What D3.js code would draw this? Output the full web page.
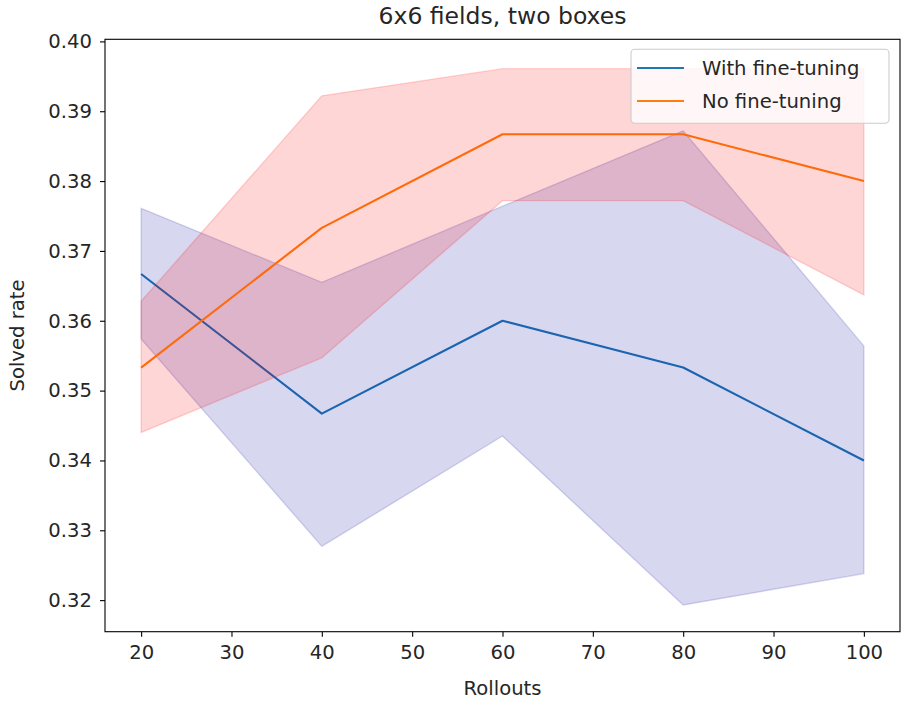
<!DOCTYPE html>
<html>
<head>
<meta charset="utf-8">
<script src="https://cdn.jsdelivr.net/npm/d3@7/dist/d3.min.js"></script>
<style>
  html, body { margin: 0; padding: 0; background: #fff; }
  svg { display: block; font-family: "DejaVu Sans", sans-serif; }
</style>
</head>
<body>
<svg id="chart" width="906" height="701"></svg>
<script>
// Number of rollouts on the x axis
const rollouts = [20, 40, 60, 80, 100];

// Mean solved rate and spread band, with fine-tuning
const withFtMean  = [0.3667, 0.3467, 0.3600, 0.3533, 0.3400];
const withFtLower = [0.3574, 0.3277, 0.3435, 0.3193, 0.3238];
const withFtUpper = [0.3761, 0.3655, 0.3764, 0.3872, 0.3564];

// Mean solved rate and spread band, without fine-tuning
const noFtMean  = [0.3533, 0.3733, 0.3867, 0.3867, 0.3800];
const noFtLower = [0.3440, 0.3547, 0.3772, 0.3772, 0.3637];
const noFtUpper = [0.3628, 0.3922, 0.3961, 0.3961, 0.3961];

const xTicks = [20, 30, 40, 50, 60, 70, 80, 90, 100];
const yTicks = [0.32, 0.33, 0.34, 0.35, 0.36, 0.37, 0.38, 0.39, 0.40];

const seriesNames = ["With fine-tuning", "No fine-tuning"];

const svg = d3.select("#chart");
const mLeft = 105, mRight = 900, mTop = 39.3, mBottom = 631.7;

const x = d3.scaleLinear().domain([16, 104]).range([mLeft, mRight]);
const y = d3.scaleLinear().domain([0.31548, 0.4003]).range([mBottom, mTop]);

const fontSize = 19.6;

const series = [
  { name: seriesNames[0], mean: withFtMean, lo: withFtLower, hi: withFtUpper, line: "#1f77b4", fill: "rgb(0,0,160)", alpha: 0.155 },
  { name: seriesNames[1], mean: noFtMean,   lo: noFtLower,   hi: noFtUpper,   line: "#ff7f0e", fill: "rgb(255,0,0)", alpha: 0.16 }
];

const area = d3.area()
  .x((d, i) => x(rollouts[i]))
  .y0(d => y(d[0]))
  .y1(d => y(d[1]));

const line = d3.line()
  .x((d, i) => x(rollouts[i]))
  .y(d => y(d));

const plot = svg.append("g");

series.forEach(s => {
  plot.append("path")
    .attr("d", line(s.mean))
    .attr("fill", "none")
    .attr("stroke", s.line)
    .attr("stroke-width", 2.1)
    .attr("stroke-linejoin", "round")
    .attr("stroke-linecap", "butt");
  const band = s.lo.map((v, i) => [v, s.hi[i]]);
  plot.append("path")
    .attr("d", area(band))
    .attr("fill", s.fill)
    .attr("fill-opacity", s.alpha)
    .attr("stroke", s.fill)
    .attr("stroke-opacity", s.alpha)
    .attr("stroke-width", 1.4);
});

// Axes
const xAxis = d3.axisBottom(x).tickValues(xTicks).tickSize(5).tickPadding(8).tickFormat(d3.format("d"));
const yAxis = d3.axisLeft(y).tickValues(yTicks).tickSize(5).tickPadding(8).tickFormat(d3.format(".2f"));

const gx = svg.append("g").attr("transform", `translate(0,${mBottom})`).call(xAxis);
const gy = svg.append("g").attr("transform", `translate(${mLeft},0)`).call(yAxis);
[gx, gy].forEach(g => {
  g.select(".domain").remove();
  g.selectAll(".tick line").attr("stroke", "#000").attr("stroke-width", 1.1);
  g.selectAll(".tick text").attr("fill", "#262626").style("font-size", fontSize + "px").style("font-family", "DejaVu Sans");
});

// Frame
svg.append("rect")
  .attr("x", mLeft).attr("y", mTop)
  .attr("width", mRight - mLeft).attr("height", mBottom - mTop)
  .attr("fill", "none").attr("stroke", "#000").attr("stroke-width", 1.1);

// Title and axis labels
svg.append("text")
  .attr("x", (mLeft + mRight) / 2).attr("y", 24)
  .attr("text-anchor", "middle")
  .style("font-size", "23.5px")
  .attr("fill", "#262626")
  .text("6x6 fields, two boxes");

svg.append("text")
  .attr("x", (mLeft + mRight) / 2).attr("y", 695)
  .attr("text-anchor", "middle")
  .style("font-size", fontSize + "px")
  .attr("fill", "#262626")
  .text("Rollouts");

svg.append("text")
  .attr("transform", `translate(24,${(mTop + mBottom) / 2}) rotate(-90)`)
  .attr("text-anchor", "middle")
  .style("font-size", fontSize + "px")
  .attr("fill", "#262626")
  .text("Solved rate");

// Legend
const lg = svg.append("g");
lg.append("rect")
  .attr("x", 631).attr("y", 49.3)
  .attr("width", 258).attr("height", 74)
  .attr("rx", 4).attr("ry", 4)
  .attr("fill", "#fff").attr("fill-opacity", 0.8)
  .attr("stroke", "#ccc").attr("stroke-width", 1.1);

series.forEach((s, i) => {
  const ly = 68 + i * 33;
  lg.append("line")
    .attr("x1", 637).attr("x2", 684)
    .attr("y1", ly).attr("y2", ly)
    .attr("stroke", s.line).attr("stroke-width", 2.1);
  lg.append("text")
    .attr("x", 702).attr("y", ly)
    .attr("dy", "0.36em")
    .style("font-size", fontSize + "px")
    .attr("fill", "#262626")
    .text(s.name);
});
</script>
</body>
</html>
